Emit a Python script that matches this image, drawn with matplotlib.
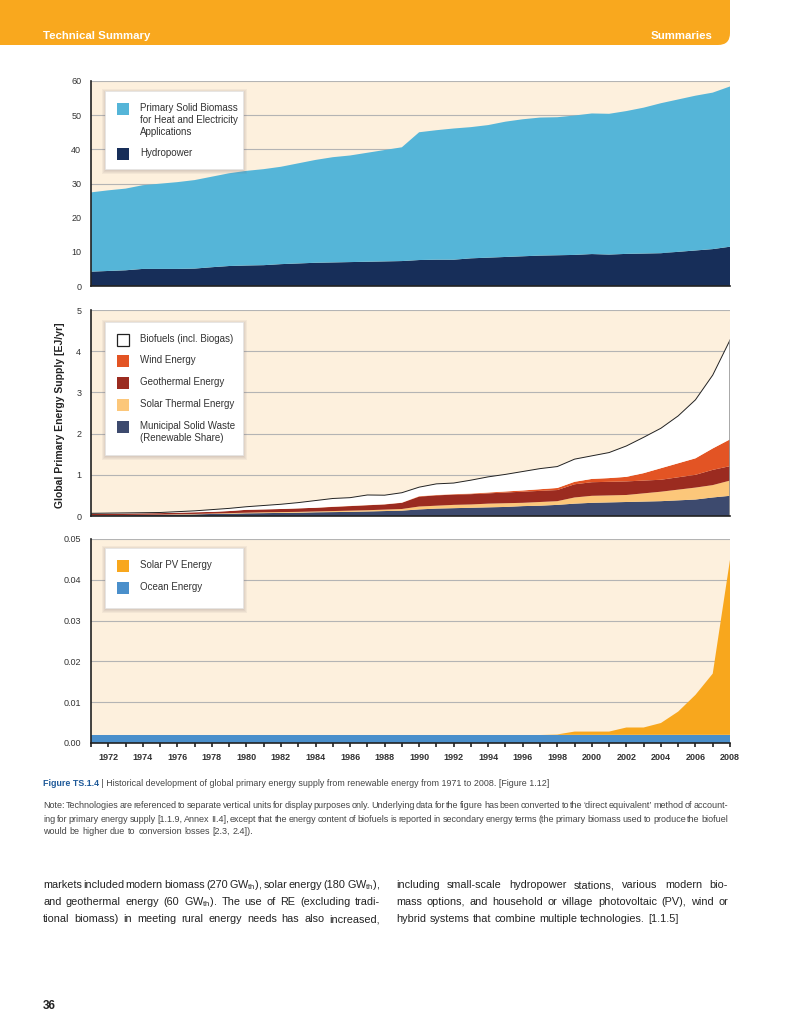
import matplotlib.pyplot as plt
import numpy as np
from matplotlib.patches import FancyBboxPatch, Rectangle
from matplotlib.ticker import FormatStrFormatter

plt.rcParams['font.family'] = ['Liberation Sans Narrow', 'Liberation Sans', 'DejaVu Sans']
plt.rcParams['mathtext.fontset'] = 'custom'
plt.rcParams['mathtext.rm'] = 'Liberation Sans Narrow'
plt.rcParams['mathtext.default'] = 'regular'

# data, EJ/yr
years = np.arange(1971, 2009)

hydro = [4.2, 4.4, 4.6, 5.0, 5.0, 5.0, 5.1, 5.5, 5.85, 6.0, 6.1, 6.4, 6.6, 6.8, 6.9, 7.0, 7.1, 7.2, 7.3,
         7.6, 7.7, 7.7, 8.1, 8.3, 8.5, 8.7, 8.9, 9.0, 9.1, 9.35, 9.2, 9.4, 9.5, 9.6, 10.0, 10.4, 10.8, 11.5]
biomass = [23.2, 23.6, 23.9, 24.5, 24.95, 25.4, 25.9, 26.5, 27.15, 27.7, 28.1, 28.5, 29.3, 30.1, 30.8,
           31.2, 31.9, 32.6, 33.3, 37.4, 37.9, 38.4, 38.4, 38.8, 39.6, 40.1, 40.4, 40.4, 40.8, 41.15,
           41.2, 41.8, 42.7, 43.9, 44.6, 45.3, 45.8, 46.9]

msw = [0.01, 0.015, 0.02, 0.025, 0.03, 0.035, 0.04, 0.05, 0.055, 0.065, 0.07, 0.075, 0.08, 0.09, 0.095,
       0.10, 0.11, 0.12, 0.13, 0.16, 0.18, 0.19, 0.20, 0.21, 0.22, 0.24, 0.25, 0.27, 0.30, 0.32, 0.33,
       0.34, 0.35, 0.36, 0.38, 0.40, 0.45, 0.49]
solar_thermal = [0.005, 0.005, 0.005, 0.005, 0.005, 0.01, 0.01, 0.01, 0.015, 0.015, 0.02, 0.02, 0.02,
                 0.02, 0.025, 0.03, 0.03, 0.035, 0.04, 0.07, 0.07, 0.08, 0.08, 0.09, 0.09, 0.08, 0.09,
                 0.09, 0.15, 0.17, 0.17, 0.17, 0.20, 0.23, 0.26, 0.29, 0.30, 0.37]
geothermal = [0.035, 0.035, 0.035, 0.035, 0.035, 0.035, 0.04, 0.04, 0.05, 0.07, 0.07, 0.075, 0.085, 0.09,
              0.10, 0.11, 0.12, 0.125, 0.15, 0.24, 0.25, 0.25, 0.25, 0.25, 0.26, 0.27, 0.27, 0.27, 0.32,
              0.33, 0.33, 0.33, 0.31, 0.29, 0.30, 0.31, 0.37, 0.35]
wind = [0, 0, 0, 0, 0, 0, 0, 0, 0, 0, 0, 0, 0, 0, 0.005, 0.005, 0.005, 0.005, 0.005, 0.01, 0.01, 0.01,
        0.015, 0.02, 0.025, 0.03, 0.04, 0.05, 0.06, 0.08, 0.09, 0.11, 0.18, 0.28, 0.34, 0.40, 0.52, 0.65]
biofuels = [0.015, 0.015, 0.015, 0.015, 0.015, 0.025, 0.035, 0.055, 0.065, 0.075, 0.095, 0.115, 0.14,
            0.175, 0.2, 0.2, 0.245, 0.22, 0.24, 0.22, 0.27, 0.27, 0.325, 0.38, 0.415, 0.46, 0.50, 0.52,
            0.55, 0.56, 0.62, 0.75, 0.87, 0.97, 1.15, 1.42, 1.78, 2.41]

ocean = [0.002] * len(years)
solar_pv = [0] * 27 + [0.0001, 0.0008, 0.0008, 0.0008, 0.0018, 0.0018, 0.0029, 0.0057, 0.0098, 0.015, 0.0429]

c_bg = '#fdf0dd'
c_grid = '#b4b4b4'
c_text = '#333333'

fig = plt.figure(figsize=(8, 10.35), dpi=100)

# page layer in pixel coordinates (y down)
page = fig.add_axes([0, 0, 1, 1], zorder=-5)
page.set_xlim(0, 800)
page.set_ylim(1035, 0)
page.axis('off')
page.add_patch(FancyBboxPatch((-30, -30), 760, 75, boxstyle='round,pad=0,rounding_size=12',
                              fc='#f9a81e', ec='none'))
page.text(43, 39, 'Technical Summary', color='white', fontsize=8.2, fontweight='bold', va='baseline')
page.text(712, 39, 'Summaries', color='white', fontsize=8.2, fontweight='bold', va='baseline', ha='right')

# overlay in pixel coordinates for the legend boxes
over = fig.add_axes([0, 0, 1, 1], zorder=10)
over.set_xlim(0, 800)
over.set_ylim(1035, 0)
over.axis('off')


def px_axes(top, bottom):
    return fig.add_axes([91 / 800, (1035 - bottom) / 1035, 639 / 800, (bottom - top) / 1035])


def style(ax, ymax, step):
    ax.set_facecolor(c_bg)
    ax.set_xlim(1971, 2008)
    ax.set_ylim(0, ymax)
    ax.set_yticks(np.arange(0, ymax + step / 2, step))
    ax.grid(axis='y', color=c_grid, lw=0.8)
    ax.set_axisbelow(True)
    for s in ['top', 'right']:
        ax.spines[s].set_visible(False)
    for s in ['left', 'bottom']:
        ax.spines[s].set_color('#222222')
        ax.spines[s].set_linewidth(1.2)
    ax.tick_params(axis='y', length=0, pad=7, labelsize=6.5, labelcolor=c_text)


def legend_box(y0, y1, items):
    x0, x1 = 105, 243
    for k in range(4, 0, -1):
        over.add_patch(Rectangle((x0 - k + 1, y0 - k + 2), x1 - x0 + 2 * k - 1, y1 - y0 + 2 * k - 1,
                                 fc='#7a6a70', ec='none', alpha=0.07))
    over.add_patch(Rectangle((x0, y0), x1 - x0, y1 - y0, fc='white', ec='#e4e4e4', lw=0.5))
    for color, edge, label, yc in items:
        over.add_patch(Rectangle((117, yc - 6), 12, 12, fc=color, ec=edge, lw=0.9 if edge != 'none' else 0))
        over.text(140, yc - 5.8, label, fontsize=7, color=c_text, va='top', linespacing=1.25)


# top panel
ax1 = px_axes(81, 286)
style(ax1, 60, 10)
ax1.stackplot(years, hydro, biomass, colors=['#172e59', '#55b5d8'], lw=0)
ax1.set_xticks([])
legend_box(91, 169, [('#55b5d8', 'none', 'Primary Solid Biomass\nfor Heat and Electricity\nApplications', 109),
                     ('#172e59', 'none', 'Hydropower', 154)])

# middle panel
ax2 = px_axes(310, 516)
style(ax2, 5, 1)
mid_colors = ['#3d4a6e', '#fcc77a', '#9b2b20', '#e35424', 'white']
ax2.stackplot(years, msw, solar_thermal, geothermal, wind, biofuels, colors=mid_colors, lw=0)
total = np.sum([msw, solar_thermal, geothermal, wind, biofuels], axis=0)
ax2.plot(years, total, color='#222222', lw=0.7)
ax2.vlines(2008, 0, total[-1], color='#999999', lw=1.2)
ax2.set_xticks([])
legend_box(322, 455, [('white', '#222222', 'Biofuels (incl. Biogas)', 340),
                      ('#e35424', 'none', 'Wind Energy', 361),
                      ('#9b2b20', 'none', 'Geothermal Energy', 383),
                      ('#fcc77a', 'none', 'Solar Thermal Energy', 405),
                      ('#3d4a6e', 'none', 'Municipal Solid Waste\n(Renewable Share)', 427)])

# bottom panel
ax3 = px_axes(539, 743)
style(ax3, 0.05, 0.01)
ax3.yaxis.set_major_formatter(FormatStrFormatter('%.2f'))
ax3.stackplot(years, ocean, solar_pv, colors=['#4a8fcb', '#f8a71d'], lw=0)
ax3.set_xticks(years)
ax3.set_xticklabels([str(y) if y % 2 == 0 else '' for y in years])
ax3.tick_params(axis='x', length=3, width=1.2, color='#222222', labelsize=6.5, pad=4)
for t in ax3.get_xticklabels():
    t.set_fontweight('bold')
    t.set_color(c_text)
legend_box(548, 608, [('#f8a71d', 'none', 'Solar PV Energy', 566),
                      ('#4a8fcb', 'none', 'Ocean Energy', 588)])

fig.text(60 / 800, 1 - 415 / 1035, 'Global Primary Energy Supply [EJ/yr]', rotation=90,
         ha='center', va='center', fontsize=7.5, fontweight='bold', color='#222222')

# caption
cap = page.text(43, 783, 'Figure TS.1.4', color='#1f5a99', fontsize=6.4, fontweight='bold', va='center')
page.annotate(' | Historical development of global primary energy supply from renewable energy '
              'from 1971 to 2008. [Figure 1.12]', xy=(1, 0.5), xycoords=cap, va='center',
              fontsize=6.4, color='#444444')

renderer = fig.canvas.get_renderer()


def justify(line, x0, x1, y, size, color, full=True):
    words = line.split(' ')
    arts = [page.text(0, y, w, fontsize=size, color=color, va='center') for w in words]
    widths = [a.get_window_extent(renderer).width for a in arts]
    if full and len(words) > 1:
        gap = (x1 - x0 - sum(widths)) / (len(words) - 1)
    else:
        gap = size * 0.3 * 100 / 72
    x = x0
    for a, w in zip(arts, widths):
        a.set_x(x)
        x += w + gap


note = ["Note: Technologies are referenced to separate vertical units for display purposes only. Underlying data "
        "for the figure has been converted to the \u2018direct equivalent\u2019 method of account-",
        "ing for primary energy supply [1.1.9, Annex II.4], except that the energy content of biofuels is reported "
        "in secondary energy terms (the primary biomass used to produce the biofuel",
        "would be higher due to conversion losses [2.3, 2.4])."]
for i, ln in enumerate(note):
    justify(ln, 43, 728, 806 + 13 * i, 6.5, '#444444', full=(i < 2))

left_col = ["markets included modern biomass (270 GW$_{th}$), solar energy (180 GW$_{th}$),",
            "and geothermal energy (60 GW$_{th}$). The use of RE (excluding tradi-",
            "tional biomass) in meeting rural energy needs has also increased,"]
right_col = ["including small-scale hydropower stations, various modern bio-",
             "mass options, and household or village photovoltaic (PV), wind or",
             "hybrid systems that combine multiple technologies. [1.1.5]"]
for i, ln in enumerate(left_col):
    justify(ln, 43, 380, 885 + 17 * i, 7.8, '#222222')
for i, ln in enumerate(right_col):
    justify(ln, 396, 728, 885 + 17 * i, 7.8, '#222222', full=(i < 2))

page.text(43, 1006, '36', fontsize=8.5, fontweight='bold', color='#222222', va='center')

fig.savefig('out.png', dpi=100)
